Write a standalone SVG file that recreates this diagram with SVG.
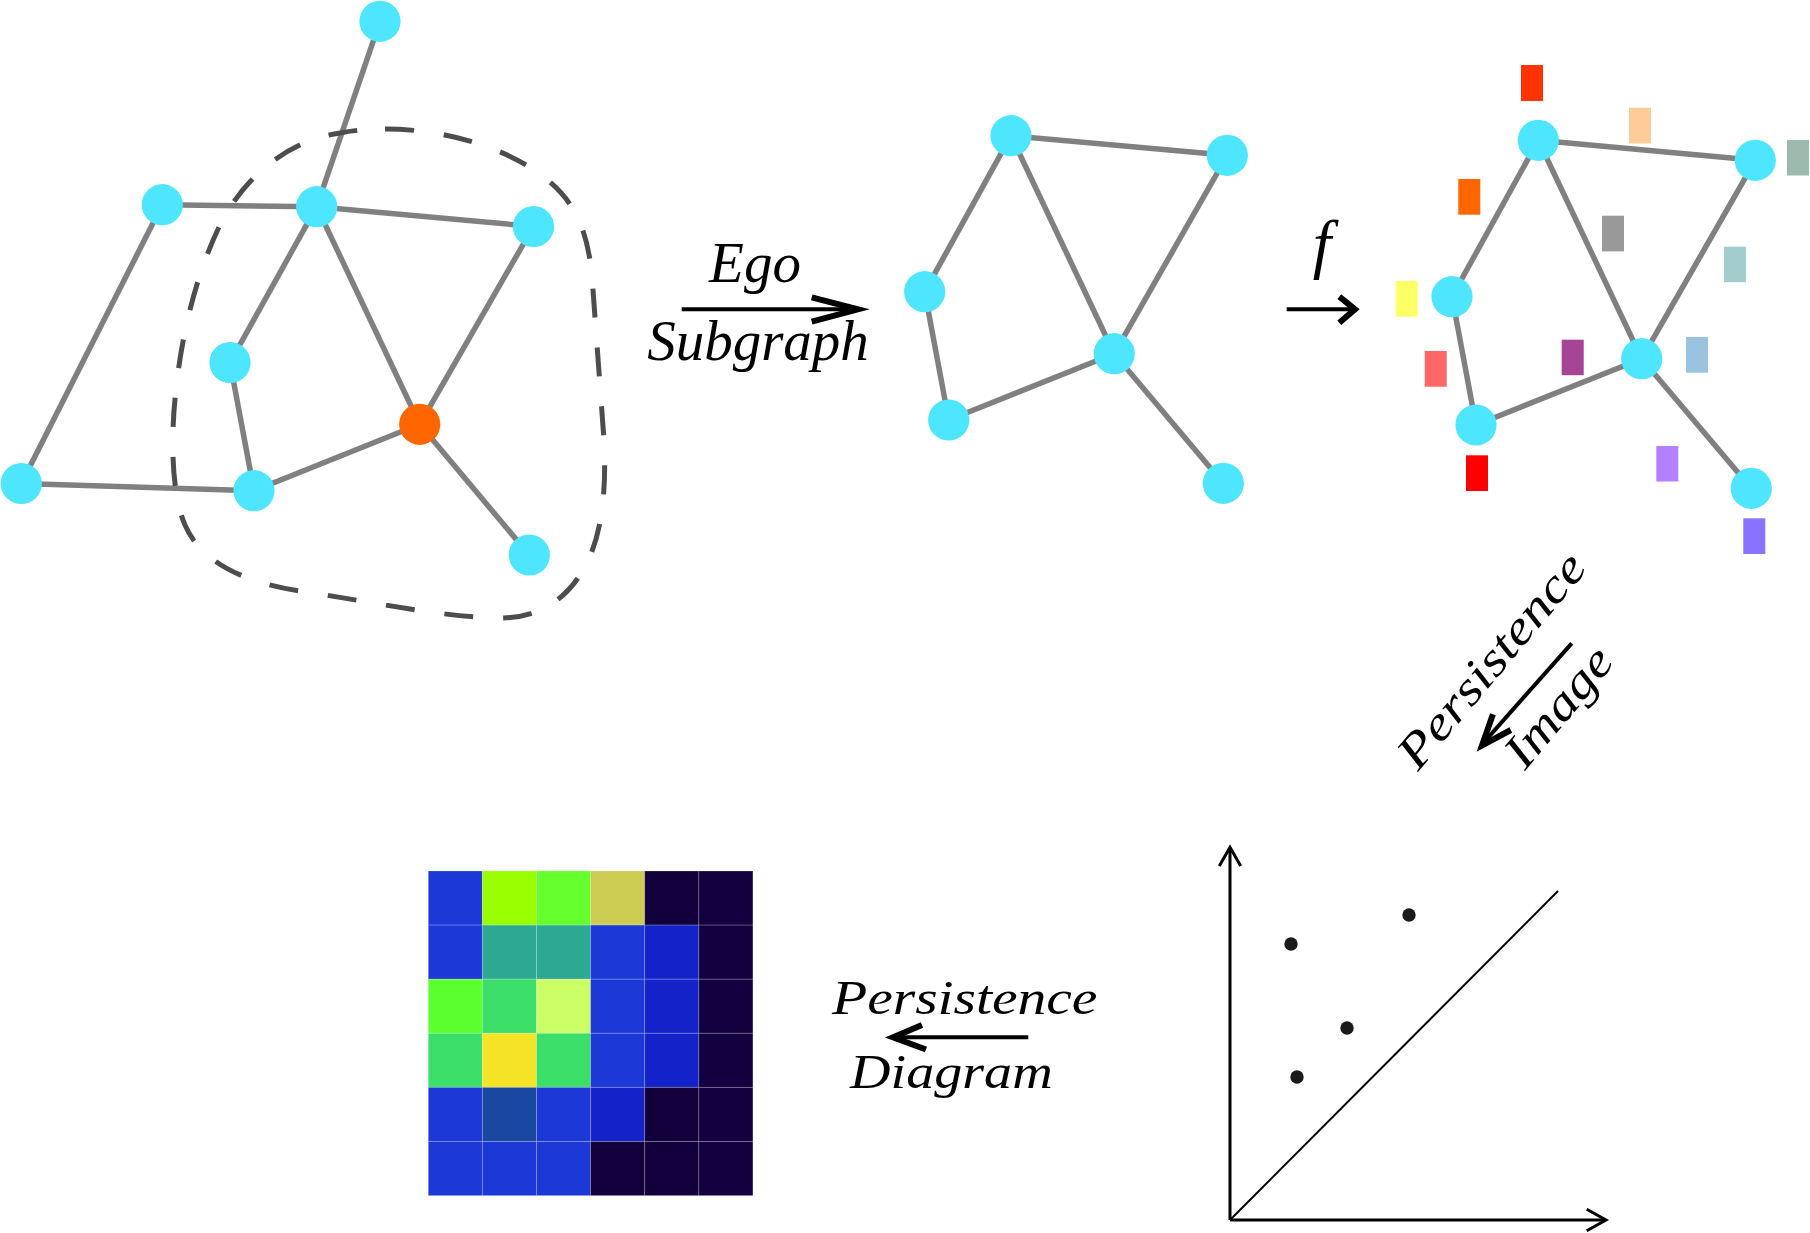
<svg xmlns="http://www.w3.org/2000/svg" width="1810" height="1233" viewBox="0 0 1810 1233">
<style>
.edge{stroke:#808080;stroke-width:5.5;fill:none}
.node{fill:#4EE6FF}
.ego{fill:#FF6600}
.loop{fill:none;stroke:#4D4D4D;stroke-width:5;stroke-dasharray:29 30}
.arr{fill:none;stroke:#000;stroke-width:4}
.head{fill:none;stroke:#000;stroke-width:6;stroke-linejoin:miter;stroke-miterlimit:10}
.lbl{font-family:"Liberation Serif","Times New Roman",serif;font-style:italic;fill:#000}
.cell{stroke:#ffffff;stroke-opacity:0.18;stroke-width:1}
.axis{fill:none;stroke:#000;stroke-width:3}
.pt{fill:#1a1a1a}
</style>
<rect width="1810" height="1233" fill="#fff"/>

<g id="connectors">
  <!-- original graph -->
  <line class="edge" x1="380" y1="21.3" x2="316.7" y2="206.7"/>
  <line class="edge" x1="162.3" y1="204.7" x2="316.7" y2="206.7"/>
  <line class="edge" x1="316.7" y1="206.7" x2="533.5" y2="226.5"/>
  <line class="edge" x1="162.3" y1="204.7" x2="21.3" y2="483.5"/>
  <line class="edge" x1="316.7" y1="206.7" x2="230" y2="362.5"/>
  <line class="edge" x1="316.7" y1="206.7" x2="419.7" y2="424.3"/>
  <line class="edge" x1="533.5" y1="226.5" x2="419.7" y2="424.3"/>
  <line class="edge" x1="230" y1="362.5" x2="254" y2="490.7"/>
  <line class="edge" x1="21.3" y1="483.5" x2="254" y2="490.7"/>
  <line class="edge" x1="254" y1="490.7" x2="419.7" y2="424.3"/>
  <line class="edge" x1="419.7" y1="424.3" x2="529.3" y2="555"/>
  <!-- ego subgraph -->
  <line class="edge" x1="1011" y1="135.7" x2="1227.3" y2="155.3"/>
  <line class="edge" x1="1011" y1="135.7" x2="924.7" y2="291.7"/>
  <line class="edge" x1="1011" y1="135.7" x2="1114.2" y2="353.7"/>
  <line class="edge" x1="1227.3" y1="155.3" x2="1114.2" y2="353.7"/>
  <line class="edge" x1="924.7" y1="291.7" x2="948.7" y2="420"/>
  <line class="edge" x1="948.7" y1="420" x2="1114.2" y2="353.7"/>
  <line class="edge" x1="1114.2" y1="353.7" x2="1223.3" y2="483.3"/>
  <!-- filtered graph -->
  <line class="edge" x1="1538.3" y1="140.3" x2="1755.3" y2="160.3"/>
  <line class="edge" x1="1538.3" y1="140.3" x2="1452" y2="296.7"/>
  <line class="edge" x1="1538.3" y1="140.3" x2="1641.7" y2="358.7"/>
  <line class="edge" x1="1755.3" y1="160.3" x2="1641.7" y2="358.7"/>
  <line class="edge" x1="1452" y1="296.7" x2="1476" y2="425"/>
  <line class="edge" x1="1476" y1="425" x2="1641.7" y2="358.7"/>
  <line class="edge" x1="1641.7" y1="358.7" x2="1751.3" y2="488.3"/>
</g>

<path id="ego-boundary" class="loop" d="M 385,129 C 450,129 510,150 545,178 C 580,205 590,240 593,290 L 604,440 C 607,500 600,545 580,575 C 562,603 535,618 500,618 C 440,617 380,603 300,591 C 240,582 200,560 185,525 C 172,495 170,440 176,390 C 182,330 198,270 220,225 C 245,175 290,140 340,133 C 355,130 370,129 385,129 Z"/>

<g id="graph-original">
  <circle id="n-t" class="node" cx="380" cy="21.3" r="20.6"/>
  <circle id="n-a" class="node" cx="162.3" cy="204.7" r="20.6"/>
  <circle id="n-b" class="node" cx="316.7" cy="206.7" r="20.6"/>
  <circle id="n-c" class="node" cx="533.5" cy="226.5" r="20.6"/>
  <circle id="n-d" class="node" cx="230" cy="362.5" r="20.6"/>
  <circle id="n-e" class="ego" cx="419.7" cy="424.3" r="20.6"/>
  <circle id="n-f" class="node" cx="21.3" cy="483.5" r="20.6"/>
  <circle id="n-g" class="node" cx="254" cy="490.7" r="20.6"/>
  <circle id="n-h" class="node" cx="529.3" cy="555" r="20.6"/>
</g>

<g id="graph-ego">
  <circle id="m-1" class="node" cx="1011" cy="135.7" r="20.6"/>
  <circle id="m-2" class="node" cx="1227.3" cy="155.3" r="20.6"/>
  <circle id="m-3" class="node" cx="924.7" cy="291.7" r="20.6"/>
  <circle id="m-4" class="node" cx="1114.2" cy="353.7" r="20.6"/>
  <circle id="m-5" class="node" cx="948.7" cy="420" r="20.6"/>
  <circle id="m-6" class="node" cx="1223.3" cy="483.3" r="20.6"/>
</g>

<g id="graph-filtered">
  <circle id="q-1" class="node" cx="1538.3" cy="140.3" r="20.6"/>
  <circle id="q-2" class="node" cx="1755.3" cy="160.3" r="20.6"/>
  <circle id="q-3" class="node" cx="1452" cy="296.7" r="20.6"/>
  <circle id="q-4" class="node" cx="1641.7" cy="358.7" r="20.6"/>
  <circle id="q-5" class="node" cx="1476" cy="425" r="20.6"/>
  <circle id="q-6" class="node" cx="1751.3" cy="488.3" r="20.6"/>
  <g id="filtration-values">
    <rect x="1521" y="65" width="22" height="36" fill="#FF3300"/>
    <rect x="1629" y="107.7" width="22" height="35.7" fill="#FFCC99"/>
    <rect x="1787" y="140" width="22" height="35.5" fill="#9BB9AD"/>
    <rect x="1458.3" y="179" width="22" height="35.7" fill="#FF6600"/>
    <rect x="1602" y="215.7" width="22" height="35.7" fill="#999999"/>
    <rect x="1724" y="246.7" width="22" height="35.5" fill="#A3CDCD"/>
    <rect x="1395.7" y="281" width="22" height="35.7" fill="#FFFF66"/>
    <rect x="1424.7" y="351" width="22" height="35.7" fill="#FF6666"/>
    <rect x="1561.7" y="339.7" width="22" height="35.5" fill="#A64495"/>
    <rect x="1686" y="337" width="22" height="35.7" fill="#9AC2E1"/>
    <rect x="1466" y="455.3" width="22" height="35.7" fill="#FF0000"/>
    <rect x="1656.3" y="446" width="22" height="35.5" fill="#B380FF"/>
    <rect x="1743.3" y="518.3" width="22" height="35.7" fill="#8872FF"/>
  </g>
</g>

<g id="arrow-ego">
  <line class="arr" x1="681.7" y1="309.3" x2="855" y2="309.3"/>
  <path class="head" d="M 811.7,297.3 L 858,309.3 L 811.7,321.7"/>
  <text class="lbl" x="755" y="281.7" font-size="57" text-anchor="middle">Ego</text>
  <text class="lbl" x="758" y="360" font-size="57" text-anchor="middle">Subgraph</text>
</g>

<g id="arrow-f">
  <line class="arr" x1="1286.7" y1="309.3" x2="1353" y2="309.3"/>
  <path class="head" d="M 1339.3,296.7 L 1355,309.3 L 1339.3,322.7"/>
  <text class="lbl" x="1322" y="266" font-size="66" text-anchor="middle">f</text>
</g>

<g id="arrow-pi">
  <line class="arr" x1="1571.7" y1="643.3" x2="1483" y2="743.3"/>
  <path class="head" d="M 1510.8,730 L 1482,745.5 L 1492.9,714.2"/>
  <text class="lbl" font-size="48" transform="translate(1418,772) rotate(-50) scale(1.2,1)">Persistence</text>
  <text class="lbl" font-size="48" transform="translate(1525,771) rotate(-50) scale(1.18,1)">Image</text>
</g>

<g id="arrow-pd">
  <line class="arr" x1="895" y1="1037.3" x2="1028.3" y2="1037.3"/>
  <path class="head" d="M 922,1025 L 893,1037.3 L 926,1049.5"/>
  <text class="lbl" font-size="48" transform="translate(832,1013.5) scale(1.2,1)">Persistence</text>
  <text class="lbl" font-size="48" transform="translate(850,1088.3) scale(1.17,1)">Diagram</text>
</g>

<g id="persistence-image">
  <g class="cell">
    <rect x="428.3" y="871" width="54.1" height="54.1" fill="#1C38D6"/>
    <rect x="482.4" y="871" width="54.1" height="54.1" fill="#99FF00"/>
    <rect x="536.5" y="871" width="54.1" height="54.1" fill="#66FF2E"/>
    <rect x="590.6" y="871" width="54.1" height="54.1" fill="#CCCC52"/>
    <rect x="644.7" y="871" width="54.1" height="54.1" fill="#12003C"/>
    <rect x="698.8" y="871" width="54.1" height="54.1" fill="#130040"/>

    <rect x="428.3" y="925.1" width="54.1" height="54.1" fill="#1C38D6"/>
    <rect x="482.4" y="925.1" width="54.1" height="54.1" fill="#2DA993"/>
    <rect x="536.5" y="925.1" width="54.1" height="54.1" fill="#2DA993"/>
    <rect x="590.6" y="925.1" width="54.1" height="54.1" fill="#1C38D6"/>
    <rect x="644.7" y="925.1" width="54.1" height="54.1" fill="#1423C9"/>
    <rect x="698.8" y="925.1" width="54.1" height="54.1" fill="#130040"/>

    <rect x="428.3" y="979.2" width="54.1" height="54.1" fill="#5CFF2E"/>
    <rect x="482.4" y="979.2" width="54.1" height="54.1" fill="#3ADE68"/>
    <rect x="536.5" y="979.2" width="54.1" height="54.1" fill="#CCFF66"/>
    <rect x="590.6" y="979.2" width="54.1" height="54.1" fill="#1C38D6"/>
    <rect x="644.7" y="979.2" width="54.1" height="54.1" fill="#1423C9"/>
    <rect x="698.8" y="979.2" width="54.1" height="54.1" fill="#130040"/>

    <rect x="428.3" y="1033.3" width="54.1" height="54.1" fill="#3ADE68"/>
    <rect x="482.4" y="1033.3" width="54.1" height="54.1" fill="#F5E326"/>
    <rect x="536.5" y="1033.3" width="54.1" height="54.1" fill="#3ADE68"/>
    <rect x="590.6" y="1033.3" width="54.1" height="54.1" fill="#1C38D6"/>
    <rect x="644.7" y="1033.3" width="54.1" height="54.1" fill="#1423C9"/>
    <rect x="698.8" y="1033.3" width="54.1" height="54.1" fill="#130040"/>

    <rect x="428.3" y="1087.4" width="54.1" height="54.1" fill="#1C38D6"/>
    <rect x="482.4" y="1087.4" width="54.1" height="54.1" fill="#1A47A0"/>
    <rect x="536.5" y="1087.4" width="54.1" height="54.1" fill="#1C38D6"/>
    <rect x="590.6" y="1087.4" width="54.1" height="54.1" fill="#1423C9"/>
    <rect x="644.7" y="1087.4" width="54.1" height="54.1" fill="#12003C"/>
    <rect x="698.8" y="1087.4" width="54.1" height="54.1" fill="#130040"/>

    <rect x="428.3" y="1141.5" width="54.1" height="54.1" fill="#1C38D6"/>
    <rect x="482.4" y="1141.5" width="54.1" height="54.1" fill="#1C38D6"/>
    <rect x="536.5" y="1141.5" width="54.1" height="54.1" fill="#1C38D6"/>
    <rect x="590.6" y="1141.5" width="54.1" height="54.1" fill="#12003C"/>
    <rect x="644.7" y="1141.5" width="54.1" height="54.1" fill="#12003C"/>
    <rect x="698.8" y="1141.5" width="54.1" height="54.1" fill="#130040"/>
  </g>
</g>

<g id="persistence-diagram">
  <path class="axis" d="M 1230,1220 L 1230,849"/>
  <path class="axis" d="M 1219.3,866 L 1230,847.3 L 1240.7,866"/>
  <path class="axis" d="M 1230,1220 L 1604,1220"/>
  <path class="axis" d="M 1586.7,1209.3 L 1606,1220 L 1586.7,1230.7"/>
  <line x1="1230" y1="1220" x2="1558" y2="891" stroke="#000" stroke-width="2"/>
  <circle class="pt" cx="1409" cy="915" r="6.7"/>
  <circle class="pt" cx="1291" cy="944" r="6.7"/>
  <circle class="pt" cx="1347" cy="1028" r="6.7"/>
  <circle class="pt" cx="1297" cy="1077" r="6.7"/>
</g>
</svg>
